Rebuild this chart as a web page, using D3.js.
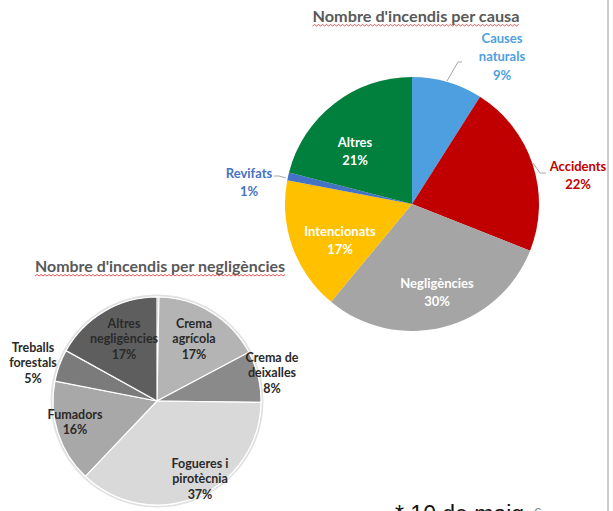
<!DOCTYPE html>
<html>
<head>
<meta charset="utf-8">
<script src="https://cdn.jsdelivr.net/npm/d3@7"></script>
<style>
  body { margin: 0; background: #fff; }
  svg { display: block; font-family: Lato, "Open Sans", sans-serif; }
</style>
</head>
<body>
<div id="chart"></div>
<script>
// main pie: fires by cause (%)
const causeLabels = ["Causes naturals", "Accidents", "Negligències", "Intencionats", "Revifats", "Altres"];
const causeValues = [9, 22, 30, 17, 1, 21];
const causeColors = ["#4d9fdf", "#c00000", "#a5a5a5", "#ffc000", "#4472c4", "#01803d"];

// secondary pie: negligence breakdown (%)
const neglLabels = ["", "Crema agrícola", "Crema de deixalles", "Fogueres i pirotècnia", "Fumadors", "Treballs forestals", "Altres negligències"];
const neglValues = [0.3, 17, 8, 37, 16, 5, 17];
const neglColors = ["#3c3c3c", "#b4b4b4", "#8a8a8a", "#d9d9d9", "#a8a8a8", "#7b7b7b", "#5e5e5e"];

const width = 613, height = 511;

const svg = d3.select("#chart").append("svg")
  .attr("width", width)
  .attr("height", height);

// right border line
svg.append("line")
  .attr("x1", 608).attr("x2", 608)
  .attr("y1", 0).attr("y2", height)
  .attr("stroke", "#bdbdbd")
  .attr("stroke-width", 1.5);

function squiggle(x0, x1, y) {
  let p = `M${x0},${y}`;
  let up = true;
  for (let x = x0 + 2; x <= x1; x += 2) {
    p += `L${x},${up ? y - 1.5 : y}`;
    up = !up;
  }
  return p;
}

function title(text, cx, cy, w) {
  svg.append("text")
    .attr("x", cx).attr("y", cy)
    .attr("text-anchor", "middle")
    .attr("font-size", 14.5)
    .attr("font-weight", "bold")
    .attr("fill", "#595959")
    .attr("textLength", w)
    .attr("lengthAdjust", "spacingAndGlyphs")
    .text(text);
  svg.append("path")
    .attr("d", squiggle(cx - w / 2, cx + w / 2, cy + 4))
    .attr("fill", "none")
    .attr("stroke", "#e03030")
    .attr("stroke-width", 0.8);
}

function multiline(g, lines, x, y, lh, opts) {
  const t = g.append("text")
    .attr("text-anchor", "middle")
    .attr("font-size", opts.size)
    .attr("font-weight", opts.weight)
    .attr("fill", opts.color);
  lines.forEach((l, i) => {
    t.append("tspan").attr("x", x).attr("y", y + i * lh).text(l);
  });
}

// ---- main pie ----
const pie = d3.pie().sort(null).value(d => d);
const bigR = 127;
const big = svg.append("g").attr("transform", "translate(412,204)");
const bigArc = d3.arc().innerRadius(0).outerRadius(bigR);

big.selectAll("path")
  .data(pie(causeValues))
  .enter().append("path")
  .attr("d", bigArc)
  .attr("fill", (d, i) => causeColors[i]);

// label positions relative to center (dx, dy of first line center)
const causeLabelText = [
  ["Causes", "naturals", "9%"],
  ["Accidents", "22%"],
  ["Negligències", "30%"],
  ["Intencionats", "17%"],
  ["Revifats", "1%"],
  ["Altres", "21%"]
];
const causeLabelPos = [[90, -166], [166, -38], [25, 79], [-72, 27], [-163, -31], [-57, -62]];
const causeInside = [false, false, true, true, false, true];

causeLabelText.forEach((lines, i) => {
  multiline(big, lines, causeLabelPos[i][0], causeLabelPos[i][1] + 4.5, 18.5, {
    size: 13, weight: "bold",
    color: causeInside[i] ? "#ffffff" : causeColors[i]
  });
});

// leader lines
const leaders = [
  [[35, -123], [46, -142], [50, -142]],
  [[121, -41], [128, -31], [134, -31]],
  [[-126, -26], [-133, -28], [-138, -28]]
];
big.selectAll("path.leader")
  .data(leaders)
  .enter().append("path")
  .attr("class", "leader")
  .attr("d", d3.line())
  .attr("fill", "none")
  .attr("stroke", "#a6a6a6")
  .attr("stroke-width", 1);

// ---- negligence pie ----
const smallR = 104;
const small = svg.append("g").attr("transform", "translate(157,401)");
const smallArc = d3.arc().innerRadius(0).outerRadius(smallR);

small.append("circle")
  .attr("r", smallR + 1.5)
  .attr("fill", "none")
  .attr("stroke", "#e2e2e2")
  .attr("stroke-width", 2);

small.selectAll("path")
  .data(pie(neglValues))
  .enter().append("path")
  .attr("d", smallArc)
  .attr("fill", (d, i) => neglColors[i])
  .attr("stroke", "#ffffff")
  .attr("stroke-width", 1.2);

const neglLabelText = [
  [],
  ["Crema", "agrícola", "17%"],
  ["Crema de", "deixalles", "8%"],
  ["Fogueres i", "pirotècnia", "37%"],
  ["Fumadors", "16%"],
  ["Treballs", "forestals", "5%"],
  ["Altres", "negligències", "17%"]
];
const neglLabelPos = [[0, 0], [37, -78], [115, -44], [43, 62], [-82, 13], [-124, -54], [-33, -78]];

neglLabelText.forEach((lines, i) => {
  if (!lines.length) return;
  multiline(small, lines, neglLabelPos[i][0], neglLabelPos[i][1] + 4.5, 15.5, {
    size: 12.5, weight: "bold", color: "#2a2a2a"
  });
});

// ---- titles ----
title("Nombre d'incendis per causa", 416, 22, 207);
title("Nombre d'incendis per negligències", 160, 272, 250);

// ---- footer (cut off at the bottom edge, as in the slide) ----
svg.append("text")
  .attr("x", 395).attr("y", 522)
  .attr("font-size", 23)
  .attr("font-family", "'Liberation Sans', sans-serif")
  .attr("fill", "#111")
  .text("* 10 de maig");
svg.append("text")
  .attr("x", 534).attr("y", 518)
  .attr("font-size", 14)
  .attr("font-family", "'Liberation Sans', sans-serif")
  .attr("fill", "#888")
  .text("6");
</script>
</body>
</html>
